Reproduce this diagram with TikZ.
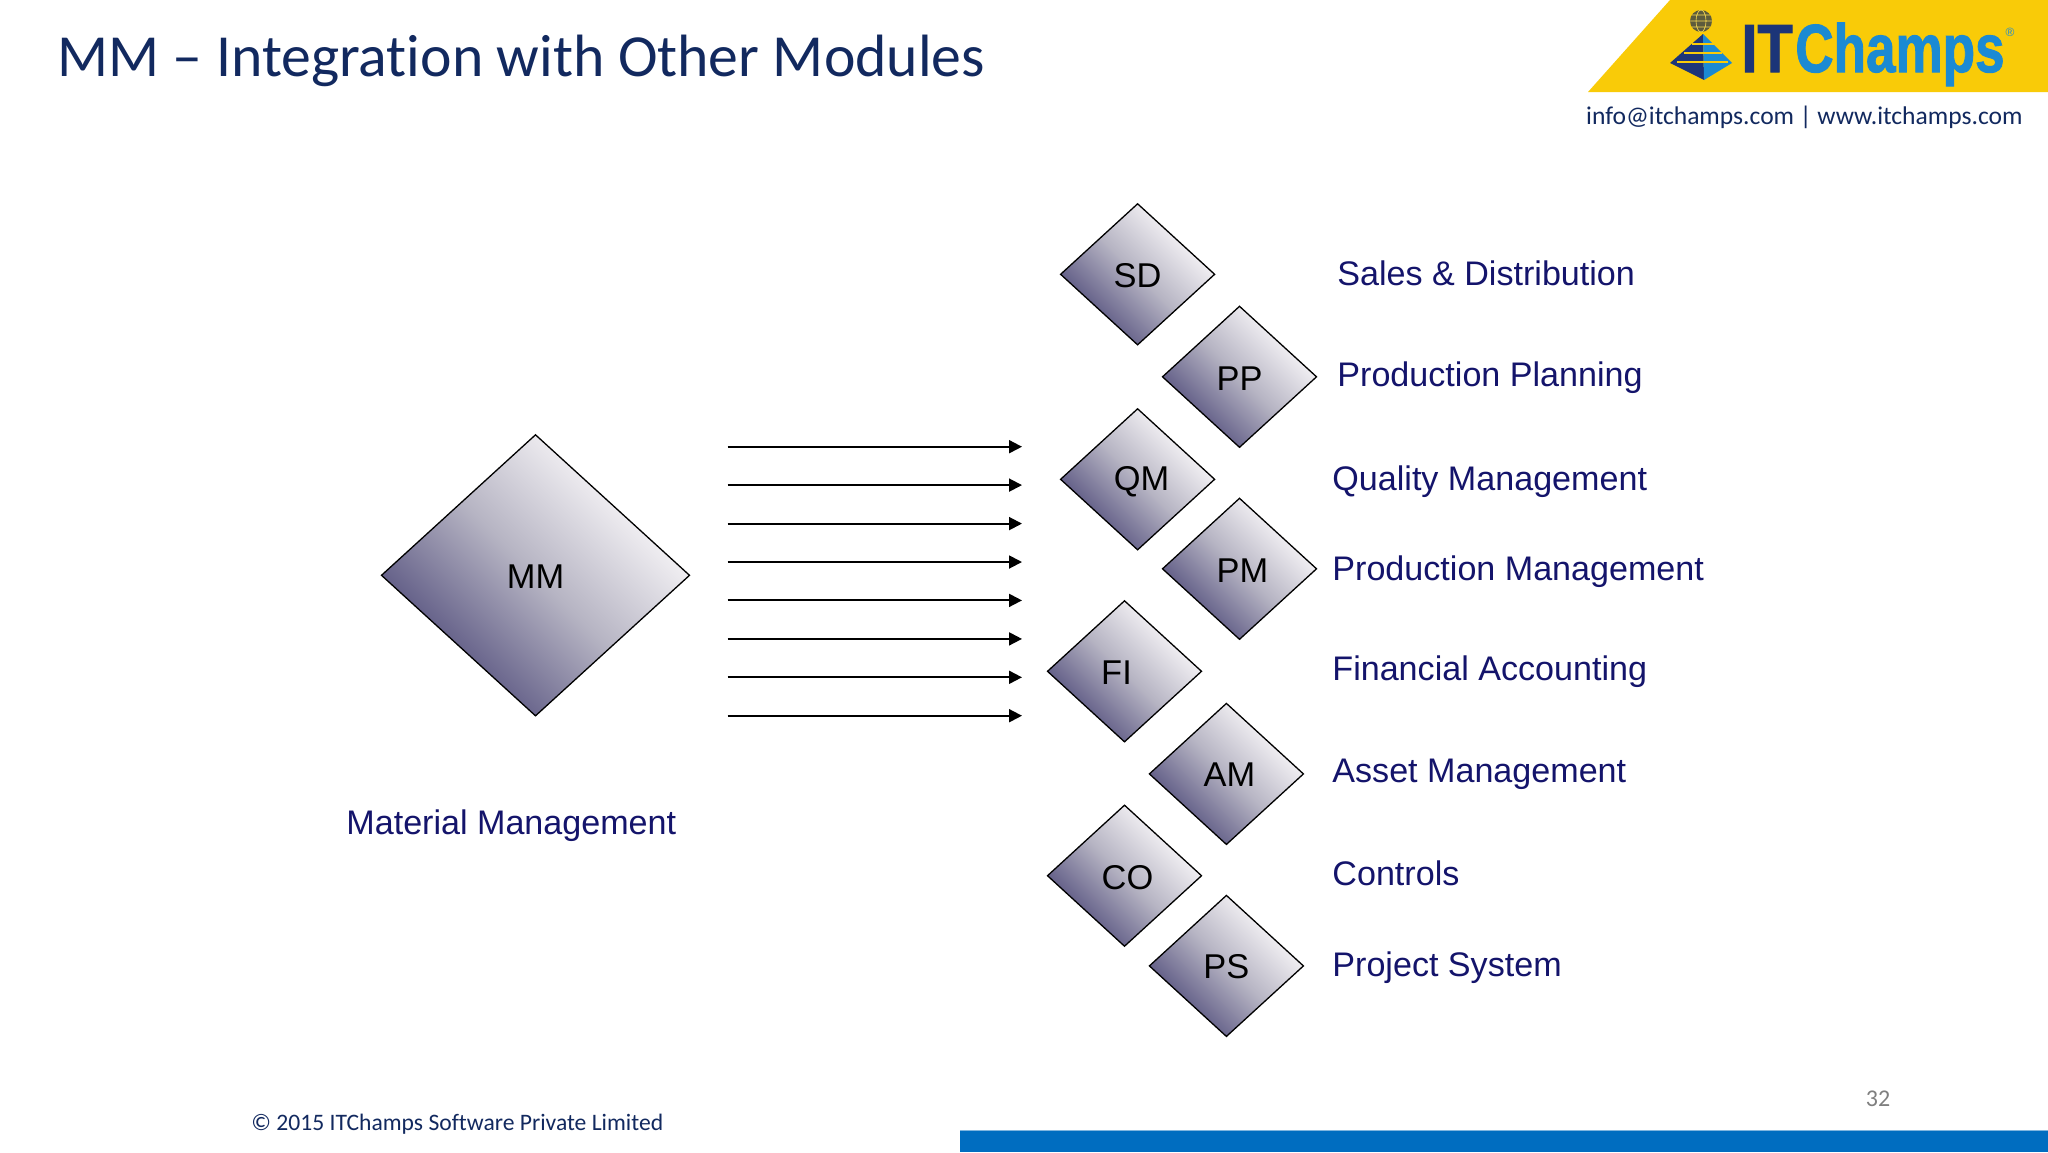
\documentclass[tikz,border=0pt]{standalone}
\usepackage{fontspec}
\usetikzlibrary{shapes.geometric,arrows.meta}
\setmainfont{Liberation Sans}
\newfontfamily\carlito[RawFeature={-liga;-clig;-dlig}]{Carlito}
\newfontfamily\logofont[FakeBold=1.6]{Liberation Sans Bold}
\definecolor{titleblue}{HTML}{12295F}
\definecolor{labelblue}{HTML}{14146B}
\definecolor{dmdlight}{HTML}{EEECF0}
\definecolor{dmdmid}{HTML}{B6B4C3}
\definecolor{dmddark}{HTML}{5F5B85}
\definecolor{logoyellow}{HTML}{F9CB08}
\definecolor{logonavy}{HTML}{1C3578}
\definecolor{logoblue}{HTML}{1B8AD3}
\definecolor{barblue}{HTML}{006DC0}
\definecolor{footgray}{HTML}{7F7F7F}
\pgfdeclareverticalshading{dmdshade}{100bp}{color(0bp)=(dmddark); color(30bp)=(dmddark); color(50bp)=(dmdmid); color(68bp)=(dmdlight); color(100bp)=(dmdlight)}
\tikzset{
  dmd/.style={shape=diamond,draw=black,line width=0.65pt,inner sep=0pt,outer sep=0pt,
    aspect=1.09,shading=dmdshade,shading angle=-45,
    minimum width=77pt,minimum height=70.5pt},
  bigdmd/.style={dmd,minimum width=154pt,minimum height=140.5pt},
  dmdtext/.style={font=\fontsize{17.2pt}{20pt}\selectfont,text=black,inner sep=0pt},
  modlabel/.style={anchor=base west,font=\fontsize{17.05pt}{20pt}\selectfont,text=labelblue,inner sep=0pt},
  flow/.style={draw=black,line width=0.95pt,-{Triangle[length=6.5pt,width=6.5pt]}},
  foot/.style={font=\carlito\fontsize{11.8pt}{14pt}\selectfont,inner sep=0pt},
}
\newcommand{\module}[6]{%
  \node[dmd] (d#1) at (#2,#3) {};
  \node[dmdtext] (t#1) at (#4,#5) {#1};
  \node[modlabel] (l#1) at (#6) {\modname{#1}};
}
\newcommand{\modname}[1]{\csname mod#1\endcsname}
\expandafter\newcommand\csname modSD\endcsname{Sales \& Distribution}
\expandafter\newcommand\csname modPP\endcsname{Production Planning}
\expandafter\newcommand\csname modQM\endcsname{Quality Management}
\expandafter\newcommand\csname modPM\endcsname{Production Management}
\expandafter\newcommand\csname modFI\endcsname{Financial Accounting}
\expandafter\newcommand\csname modAM\endcsname{Asset Management}
\expandafter\newcommand\csname modCO\endcsname{Controls}
\expandafter\newcommand\csname modPS\endcsname{Project System}
\begin{document}
\begin{tikzpicture}[x=0.5pt,y=-0.5pt]
\useasboundingbox[fill=white] (0,0) rectangle (2048,1152);
% title
\node[anchor=base west,inner sep=0pt,font=\carlito\fontsize{29.85pt}{36pt}\selectfont,text=titleblue] (title) at (57,76) {MM – Integration with Other Modules};
% logo
\fill[logoyellow] (1670,0) -- (2048,0) -- (2048,92) -- (1588,92) -- cycle;
\fill[logonavy] (1703,34) -- (1670,63) -- (1704,80) -- cycle;
\fill[logoblue] (1703,34) -- (1732,63) -- (1704,80) -- cycle;
\draw[logoyellow,line width=0.6pt] (1692,44) -- (1714,44) (1684,53) -- (1722,53) (1677,62) -- (1728,62);
\fill[logonavy!60!logoyellow!80!black] (1701,21) circle[radius=11];
\draw[logoyellow!70!white,line width=0.3pt] (1701,21) circle[x radius=5,y radius=11] (1690,21) -- (1712,21) (1692,15) -- (1710,15) (1692,27) -- (1710,27);
\node[inner sep=0pt,anchor=base west,font=\logofont\fontsize{34pt}{40pt}\selectfont,text=logonavy,xscale=0.85] (logoit) at (1741,72) {IT};
\node[inner sep=0pt,anchor=base west,font=\logofont\fontsize{34pt}{40pt}\selectfont,text=logoblue,xscale=0.78] (logoch) at (1795,72) {Champs};
\node[inner sep=0pt,font=\fontsize{6pt}{7pt}\selectfont,text=logoblue] (logor) at (2010,32) {®};
\node[anchor=base east,inner sep=0pt,font=\carlito\fontsize{12.78pt}{16pt}\selectfont,text=titleblue] (contact) at (2023,124.5) {info@itchamps.com | www.itchamps.com};
% main
\node[bigdmd] (dMM) at (535.5,575.3) {};
\node[dmdtext] (tMM) at (535.5,576.5) {MM};
\node[modlabel] (lMM) at (346,834) {Material Management};
\module{SD}{1137.6}{274.3}{1137.6}{276}{1337,285.5}
\module{PP}{1239.5}{376.8}{1239.5}{378.5}{1337,386}
\module{QM}{1137.6}{479.3}{1141.5}{481.5}{1332,490.5}
\module{PM}{1239.5}{568.8}{1242.5}{570.5}{1332,580.5}
\module{FI}{1124.5}{671.3}{1116.5}{673}{1332,680}
\module{AM}{1226.4}{773.9}{1229.5}{775}{1332,782.5}
\module{CO}{1124.5}{875.7}{1127.5}{878}{1332,885}
\module{PS}{1226.4}{965.9}{1226.4}{967}{1332,976.5}
% arrows
\foreach \i/\yy in {1/446.7,2/485.1,3/523.6,4/562,5/600.4,6/638.9,7/677.3,8/715.7}{
  \coordinate (as\i) at (727.5,\yy);
  \coordinate (ae\i) at (1022,\yy);
  \draw[flow] (as\i) -- (ae\i);
}
% footer
\fill[barblue] (960,1130) rectangle (2048,1152);
\draw[barblue!50!white,line width=0.5pt] (960,1130) -- (2048,1130);
\node[anchor=base west,foot,text=titleblue] (copy) at (251,1130) {© 2015 ITChamps Software Private Limited};
\node[anchor=base,foot,font=\carlito\fontsize{12pt}{14pt}\selectfont,text=footgray] (page) at (1878,1106) {32};
\end{tikzpicture}
\end{document}
